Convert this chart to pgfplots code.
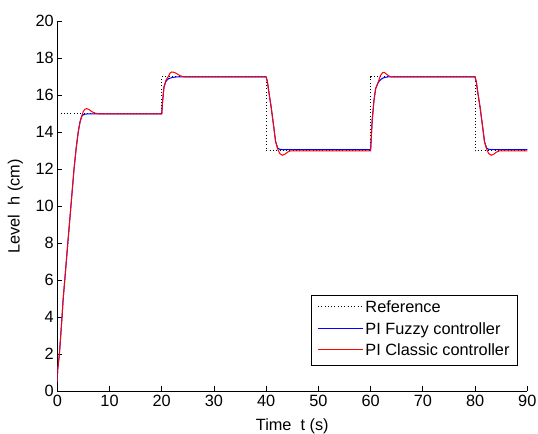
\documentclass[border=0pt]{standalone}
\usepackage{fontspec}
\setmainfont{Liberation Sans}
\usepackage{pgfplots}
\usepackage{pgfplotstable}
\pgfplotsset{compat=1.18}
\definecolor{mblue}{RGB}{0,0,255}
\definecolor{mred}{RGB}{255,0,0}
\newcommand{\ff}{\fontsize{16.3bp}{19.5bp}\selectfont}

\pgfplotstableread{
t h
0 15
20 15
20 17
40 17
40 13
60 13
60 17
80 17
80 13
90 13
}\refdata

\pgfplotstableread{
t h
0 0.5
0.05 1.1
0.4 2.0
0.9 4.0
1.1 4.9
2.1 8.3
3.2 12.0
3.6 13.1
4.0 14.0
4.35 14.56
4.67 14.87
5.0 14.95
5.3 14.98
6.0 15.0
20 15
20.18 15.73
20.43 16.45
20.8 16.75
21.3 16.9
22.0 16.96
23.0 17.0
40 17
40.25 16.7
40.55 16.1
40.95 15.37
41.45 14.29
41.8 13.5
42.2 13.15
42.6 13.08
43.0 13.07
60 13.07
60.12 13.7
60.3 14.65
60.64 15.73
60.96 16.36
61.46 16.7
62.0 16.87
62.5 16.95
63.2 16.99
64.0 17.0
80 17
80.25 16.7
80.55 16.1
80.95 15.37
81.45 14.29
81.8 13.5
82.2 13.15
82.6 13.08
83.0 13.07
90 13.07
}\fuzzydata

\pgfplotstableread{
t h
0 0.5
0.05 1.1
0.4 2.0
0.9 4.0
1.1 4.9
2.1 8.3
3.2 12.0
3.6 13.1
4.0 14.0
4.35 14.55
4.67 14.85
4.98 15.13
5.3 15.25
5.63 15.28
6.0 15.24
6.26 15.19
6.7 15.1
7.22 15.04
7.9 15.0
20 15
20.18 15.73
20.43 16.45
20.8 16.81
21.26 17.02
21.6 17.2
21.9 17.26
22.4 17.24
22.86 17.17
23.5 17.06
24.2 17.0
40 17
40.25 16.7
40.55 16.1
40.95 15.37
41.45 14.29
41.8 13.5
42.2 13.1
42.6 12.85
43.1 12.76
43.6 12.82
44.1 12.93
44.7 13.0
60 13
60.12 13.7
60.3 14.65
60.64 15.73
60.96 16.36
61.46 16.72
61.9 17.08
62.3 17.22
62.6 17.24
63.0 17.15
63.4 17.06
63.9 17.0
80 17
80.25 16.7
80.55 16.1
80.95 15.37
81.45 14.29
81.8 13.5
82.2 13.1
82.6 12.85
83.1 12.76
83.6 12.82
84.1 12.93
84.7 13.0
90 13
}\classicdata

\begin{document}
\begin{tikzpicture}
\begin{axis}[
  scale only axis, width=470bp, height=370bp,
  xmin=0, xmax=90, ymin=0, ymax=20,
  enlargelimits=false,
  xtick={0,10,...,90}, ytick={0,2,...,20},
  axis lines=left,
  axis line style={-, line width=0.75bp, black},
  tick align=inside, major tick length=5bp,
  major tick style={black, line width=0.75bp},
  /pgf/number format/assume math mode=true,
  tick label style={font=\ff, black},
  label style={font=\ff},
  xlabel={Time~~t (s)}, ylabel={Level~~h (cm)},
  xlabel style={at={(axis description cs:0.5,-0.1046)}, anchor=base},
  ylabel style={at={(axis description cs:-0.0804,0.5)}, anchor=base},
  legend cell align=left,
  legend style={at={(rel axis cs:0.980,0.068)}, anchor=south east,
    draw=black, line width=0.75bp, inner xsep=6bp, inner ysep=3bp,
    font=\ff, row sep=0pt,
    nodes={inner sep=2bp, text height=12.5bp, text depth=5bp}},
  legend image code/.code={\draw[#1] (0bp,2.2bp) -- (45bp,2.2bp);},
]
\addplot[black, line width=0.8bp, dash pattern=on 0.9bp off 2.4bp] table[x=t,y=h] {\refdata};
\addlegendentry{Reference}
\addplot[mblue, line width=1bp] table[x=t,y=h] {\fuzzydata};
\addlegendentry{PI Fuzzy controller}
\addplot[mred, line width=1bp] table[x=t,y=h] {\classicdata};
\addlegendentry{PI Classic controller}
\coordinate (O) at (rel axis cs:0,0);
\end{axis}
\pgfresetboundingbox
\path (O) ++(-57.3bp,-42.7bp) rectangle ++(538bp,434bp);
\end{tikzpicture}
\end{document}
